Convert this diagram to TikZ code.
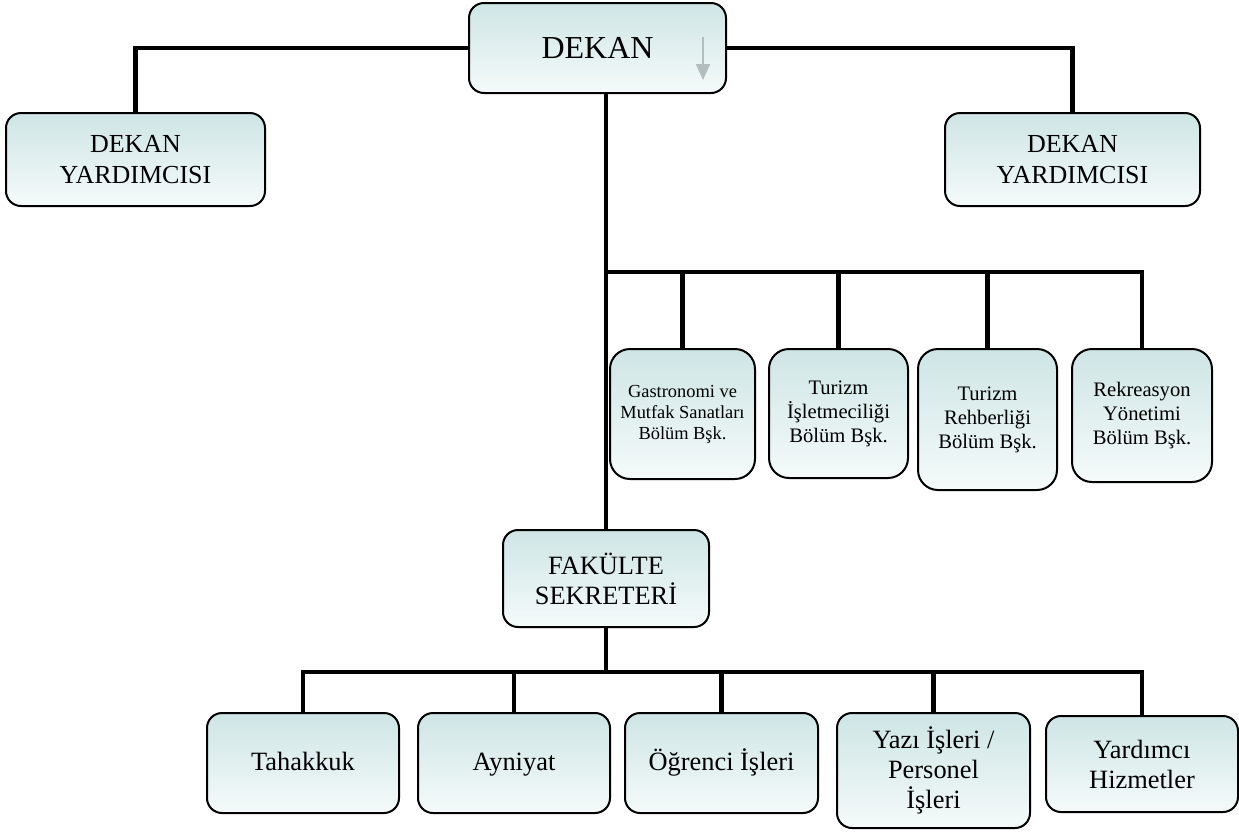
\documentclass[tikz,border=0pt]{standalone}
\usepackage{fontspec}
\setmainfont{Liberation Serif}
\usetikzlibrary{positioning, arrows.meta}
\definecolor{boxtop}{RGB}{206,229,229}
\definecolor{boxbottom}{RGB}{245,250,250}
\definecolor{hintgray}{RGB}{178,190,190}
\tikzset{
x=0.5pt, y=-0.5pt, % one unit is one pixel of the page
unit/.style={draw=black, line width=1pt, rounded corners=7.5pt, top color=boxtop, bottom color=boxbottom, inner sep=0pt, align=center}, % every box of the chart
dept/.style={unit, rounded corners=10pt, font=\fontsize{10.3}{12}\selectfont}, % the department heads
office/.style={unit, font=\fontsize{13.2}{15}\selectfont}, % the offices under the secretary
oneline/.style={text height=9.5pt, text depth=2.5pt}, % same baseline for one line labels
conn/.style={line width=2.2pt, line join=miter}, % thick lines of the chart
hint/.style={hintgray, line width=1pt, -{Triangle[length=8pt, width=7pt]}}, % the pale arrow in the top box
}

\begin{document}
\begin{tikzpicture}
    \useasboundingbox (0,0) rectangle (1239,832);
    \node[unit, minimum width=128.5pt, minimum height=45pt, font=\fontsize{16}{19}\selectfont] (dekan) at (597.5,48) {DEKAN};
    \node[unit, minimum width=129.5pt, minimum height=46.5pt, font=\fontsize{13}{15.5}\selectfont] (dy1) at (135.5,159.5) {DEKAN\\YARDIMCISI};
    \node[unit, minimum width=127.5pt, minimum height=46.5pt, font=\fontsize{13}{15.5}\selectfont] (dy2) at (1072.5,159.5) {DEKAN\\YARDIMCISI};
    \node[dept, minimum width=72.5pt, minimum height=65pt, font=\fontsize{9.2}{10.5}\selectfont] (d1) at (682.5,414) {Gastronomi ve\\Mutfak Sanatları\\Bölüm Bşk.};
    \node[dept, minimum width=69.5pt, minimum height=64.5pt] (d2) at (838.5,413.5) {Turizm\\İşletmeciliği\\Bölüm Bşk.};
    \node[dept, minimum width=69.5pt, minimum height=70.5pt] (d3) at (987.5,419.5) {Turizm\\Rehberliği\\Bölüm Bşk.};
    \node[dept, minimum width=70pt, minimum height=66.5pt] (d4) at (1142,415.5) {Rekreasyon\\Yönetimi\\Bölüm Bşk.};
    \node[office, minimum width=103pt, minimum height=48.5pt] (fs) at (606,578.5) {FAKÜLTE\\SEKRETERİ};
    \node[office, oneline, minimum width=96pt, minimum height=50pt] (t1) at (303,763) {Tahakkuk};
    \node[office, oneline, minimum width=96pt, minimum height=50pt] (t2) at (514,763) {Ayniyat};
    \node[office, oneline, minimum width=96.5pt, minimum height=50pt] (t3) at (721.5,763) {Öğrenci İşleri};
    \node[office, minimum width=96.5pt, minimum height=57.5pt] (t4) at (933.5,770.5) {Yazı İşleri /\\Personel\\İşleri};
    \node[office, minimum width=96pt, minimum height=48pt] (t5) at (1142,764) {Yardımcı\\Hizmetler};
    \coordinate (upbus) at (606,272);
    \coordinate (lowbus) at (606,672);
    % dean and deputies
    \draw[conn] (dekan.west) -| (dy1.north);
    \draw[conn] (dekan.east) -| (dy2.north);
    \draw[hint] (703,37) -- (703,80);
    % main line down to the secretary
    \draw[conn] (fs.north |- dekan.south) -- (fs.north);
    % department heads
    \draw[conn] (upbus) -| (d4.north);
    \foreach \n in {d1, d2, d3}
        \draw[conn] (\n.north |- upbus) -- (\n.north);
    % offices
    \draw[conn] (fs.south) -- (lowbus);
    \draw[conn] (t1.north) |- (lowbus) -| (t5.north);
    \foreach \n in {t2, t3, t4}
        \draw[conn] (\n.north |- lowbus) -- (\n.north);
\end{tikzpicture}
\end{document}
